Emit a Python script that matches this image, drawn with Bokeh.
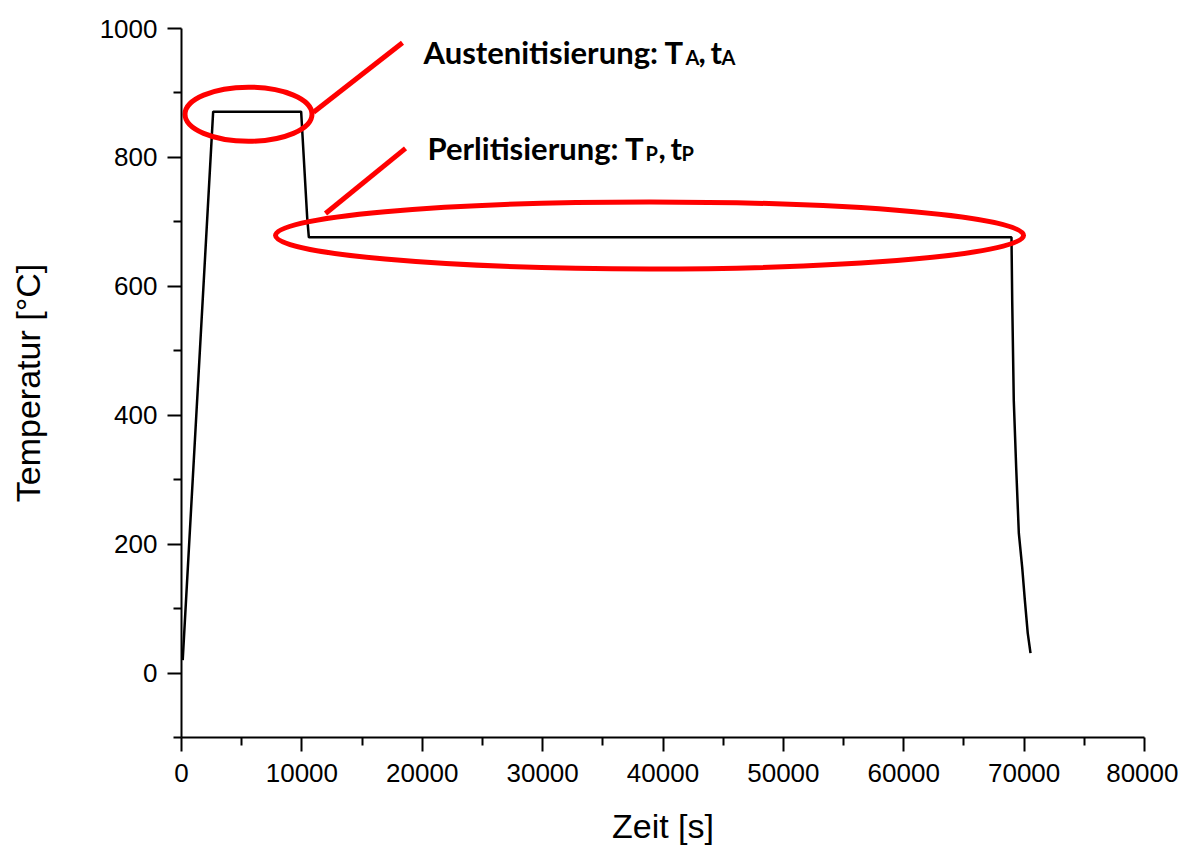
from bokeh.plotting import figure
from bokeh.models import Label, Range1d, FixedTicker
from bokeh.embed import file_html
from bokeh.resources import INLINE

# Temperature profile (time in s, temperature in °C)
time_s = [100, 2630, 9940, 10440, 10580, 68950, 69010, 69140, 69340, 69560, 69840, 70060, 70300, 70530]
temp_c = [20, 871, 871, 707, 676, 676, 578, 423, 319, 217, 164, 113, 62, 31]

# Axis ticks
x_ticks = [0, 10000, 20000, 30000, 40000, 50000, 60000, 70000, 80000]
x_minor = [5000, 15000, 25000, 35000, 45000, 55000, 65000, 75000]
y_ticks = [0, 200, 400, 600, 800, 1000]
y_minor = [-100, 100, 300, 500, 700, 900]

# Annotation ellipses (center x, center y, width, height in data units)
ell_x = [5566, 38880]
ell_y = [867, 679]
ell_w = [10550, 62140]
ell_h = [84, 104]

# Pointer lines
seg_x0 = [10966, 11963]
seg_y0 = [870, 713]
seg_x1 = [18359, 18609]
seg_y1 = [978, 814]

# Annotation text
ann_main = ["Austenitisierung: T", "Perlitisierung: T"]
ann_sub = ["A", "P"]
ann_x = [20104, 20436]
ann_y = [963, 814]

p = figure(frame_width=963, frame_height=709,
           min_border_left=181, min_border_right=34,
           min_border_top=28, min_border_bottom=110,
           x_range=Range1d(0, 80000), y_range=Range1d(-100, 1000),
           output_backend="svg", toolbar_location=None)
p.outline_line_color = None
p.grid.visible = False
p.background_fill_color = "white"
p.border_fill_color = "white"

p.xaxis.ticker = FixedTicker(ticks=x_ticks, minor_ticks=x_minor)
p.yaxis.ticker = FixedTicker(ticks=y_ticks, minor_ticks=y_minor)
for ax in (p.xaxis, p.yaxis):
    ax.axis_line_width = 2
    ax.major_tick_line_width = 2
    ax.minor_tick_line_width = 2
    ax.major_tick_out = 14
    ax.major_tick_in = 0
    ax.minor_tick_out = 8
    ax.minor_tick_in = 0
    ax.major_label_text_font = "Liberation Sans"
    ax.major_label_text_font_size = "26px"
    ax.major_label_text_color = "black"
    ax.axis_label_text_font = "Liberation Sans"
    ax.axis_label_text_font_size = "34px"
    ax.axis_label_text_font_style = "normal"
    ax.axis_label_text_color = "black"
    ax.axis_line_color = "black"
    ax.major_tick_line_color = "black"
    ax.minor_tick_line_color = "black"
p.xaxis.axis_label = "Zeit [s]"
p.yaxis.axis_label = "Temperatur [°C]"
p.xaxis.major_label_standoff = 12
p.yaxis.major_label_standoff = 10
p.xaxis.axis_label_standoff = 22
p.yaxis.axis_label_standoff = 50

p.line(time_s, temp_c, line_color="black", line_width=2.5)

p.ellipse(x=ell_x, y=ell_y, width=ell_w, height=ell_h,
          fill_color=None, line_color="#ff0000", line_width=5)
p.segment(x0=seg_x0, y0=seg_y0, x1=seg_x1, y1=seg_y1,
          line_color="#ff0000", line_width=5)

main_font = "31px"
sub_font = "20px"
# pixel offsets of the pieces: main text, subscript, ",", "t", subscript
offs = [
    [0, 262, 275, 287, 298],
    [0, 218, 231, 243, 254],
]
for i in range(2):
    o = offs[i]
    pieces = [
        (ann_main[i], o[0], 0, main_font),
        (ann_sub[i], o[1], -5, sub_font),
        (",", o[2], 0, main_font),
        ("t", o[3], 0, main_font),
        (ann_sub[i], o[4], -5, sub_font),
    ]
    for txt, dx, dy, fs in pieces:
        p.add_layout(Label(x=ann_x[i], y=ann_y[i], x_offset=dx, y_offset=dy, text=txt,
                           text_font="Lato", text_font_style="bold",
                           text_font_size=fs, text_color="black",
                           text_baseline="alphabetic", text_align="left"))

open("out.html", "w").write(file_html(p, INLINE))
